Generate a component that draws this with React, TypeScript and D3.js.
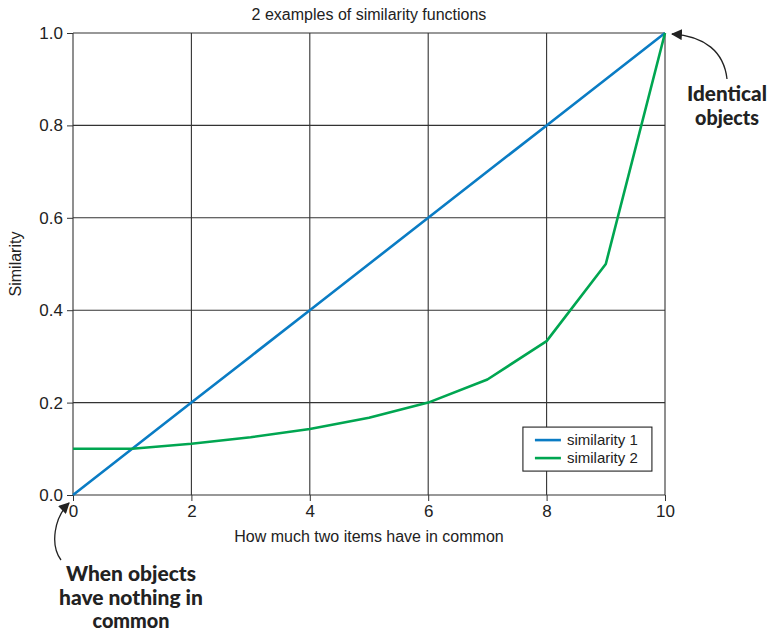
import React, { useEffect, useRef } from 'react';
import * as d3 from 'd3';

const xValues = [0, 1, 2, 3, 4, 5, 6, 7, 8, 9, 10];
const similarity1 = [0, 0.1, 0.2, 0.3, 0.4, 0.5, 0.6, 0.7, 0.8, 0.9, 1.0];
const similarity2 = [0.1, 0.1, 0.111, 0.125, 0.143, 0.167, 0.2, 0.25, 0.333, 0.5, 1.0];
const xTicks = [0, 2, 4, 6, 8, 10];
const yTicks = [0, 0.2, 0.4, 0.6, 0.8, 1.0];
const seriesNames = ['similarity 1', 'similarity 2'];
const seriesColors = ['#0a7cc4', '#00a651'];

export default function App() {
    const ref = useRef<SVGSVGElement | null>(null);

    useEffect(() => {
        const svg = d3.select(ref.current);
        svg.selectAll('*').remove();
        const width = 770, height = 633;
        const margin = { top: 33, right: 105, bottom: 138, left: 73 };
        const font = '"Liberation Sans", Arial, sans-serif';
        const boldFont = 'Lato, "Open Sans", sans-serif';

        const x = d3.scaleLinear().domain([0, 10]).range([margin.left, width - margin.right]);
        const y = d3.scaleLinear().domain([0, 1]).range([height - margin.bottom, margin.top]);

        svg.attr('viewBox', `0 0 ${width} ${height}`);

        // grid
        const grid = svg.append('g').attr('stroke', '#333').attr('stroke-width', 1.1);
        xTicks.forEach(t => {
            grid.append('line').attr('x1', x(t)).attr('x2', x(t)).attr('y1', y(0)).attr('y2', y(1));
        });
        yTicks.forEach(t => {
            grid.append('line').attr('x1', x(0)).attr('x2', x(10)).attr('y1', y(t)).attr('y2', y(t));
        });

        const xAxis = svg.append('g').attr('transform', `translate(0,${y(0)})`)
            .call(d3.axisBottom(x).tickValues(xTicks).tickFormat(d3.format('d')).tickSize(6).tickPadding(4));
        const yAxis = svg.append('g').attr('transform', `translate(${x(0)},0)`)
            .call(d3.axisLeft(y).tickValues(yTicks).tickFormat(d3.format('.1f')).tickSize(6).tickPadding(4));
        [xAxis, yAxis].forEach(a => {
            a.select('.domain').remove();
            a.selectAll('line').attr('stroke', '#333');
            a.selectAll('text').attr('font-family', font).attr('font-size', 17).attr('fill', '#222');
        });

        const data = [similarity1, similarity2];
        const line = d3.line<number>()
            .x((_, i) => x(xValues[i]))
            .y(d => y(d));
        data.forEach((s, i) => {
            svg.append('path')
                .datum(s)
                .attr('fill', 'none')
                .attr('stroke', seriesColors[i])
                .attr('stroke-width', 2.6)
                .attr('stroke-linejoin', 'round')
                .attr('d', line);
        });

        // title and labels
        svg.append('text').attr('x', (x(0) + x(10)) / 2).attr('y', 20)
            .attr('text-anchor', 'middle').attr('font-family', font).attr('font-size', 16).attr('fill', '#222')
            .text('2 examples of similarity functions');
        svg.append('text').attr('x', (x(0) + x(10)) / 2).attr('y', 542)
            .attr('text-anchor', 'middle').attr('font-family', font).attr('font-size', 16).attr('fill', '#222')
            .text('How much two items have in common');
        svg.append('text').attr('transform', `translate(21,${y(0.5)}) rotate(-90)`)
            .attr('text-anchor', 'middle').attr('font-family', font).attr('font-size', 16).attr('fill', '#222')
            .text('Similarity');

        // legend
        const lg = svg.append('g').attr('transform', `translate(${x(7.6)},${y(0.147)})`);
        lg.append('rect').attr('width', 129).attr('height', 44).attr('fill', '#fff').attr('stroke', '#222').attr('stroke-width', 1.1);
        seriesNames.forEach((n, i) => {
            const ly = 13 + i * 18;
            lg.append('line').attr('x1', 12).attr('x2', 38).attr('y1', ly).attr('y2', ly)
                .attr('stroke', seriesColors[i]).attr('stroke-width', 2.6);
            lg.append('text').attr('x', 44).attr('y', ly + 5).attr('font-family', font).attr('font-size', 15).attr('fill', '#222').text(n);
        });

        // annotations
        const defs = svg.append('defs');
        defs.append('marker').attr('id', 'ah').attr('viewBox', '0 0 10 10').attr('refX', 9).attr('refY', 5)
            .attr('markerWidth', 11).attr('markerHeight', 11).attr('orient', 'auto-start-reverse')
            .attr('markerUnits', 'userSpaceOnUse')
            .append('path').attr('d', 'M0,0 L10,5 L0,10 z').attr('fill', '#222');

        svg.append('path').attr('d', `M727,79 C724,52 705,36 ${x(10) + 7},${y(1) + 1}`)
            .attr('fill', 'none').attr('stroke', '#222').attr('stroke-width', 1.3).attr('marker-end', 'url(#ah)');
        svg.append('path').attr('d', `M61,560 C50,545 54,518 ${x(0) - 4},${y(0) + 8}`)
            .attr('fill', 'none').attr('stroke', '#222').attr('stroke-width', 1.3).attr('marker-end', 'url(#ah)');

        const annot = (lines: string[], widths: number[], cx: number, y0: number) => {
            lines.forEach((t, i) => {
                svg.append('text').attr('x', cx).attr('y', y0 + i * 23.5).attr('text-anchor', 'middle')
                    .attr('font-family', boldFont).attr('font-weight', 900).attr('font-size', 21).attr('fill', '#222')
                    .attr('textLength', widths[i]).attr('lengthAdjust', 'spacingAndGlyphs')
                    .text(t);
            });
        };
        annot(['Identical', 'objects'], [80, 64], 727, 101);
        annot(['When objects', 'have nothing in', 'common'], [130, 144, 77], 131, 581);
    }, []);

    return <svg ref={ref} width={770} height={633} style={{ display: 'block', position: 'absolute', left: 0, top: 0 }} />;
}
